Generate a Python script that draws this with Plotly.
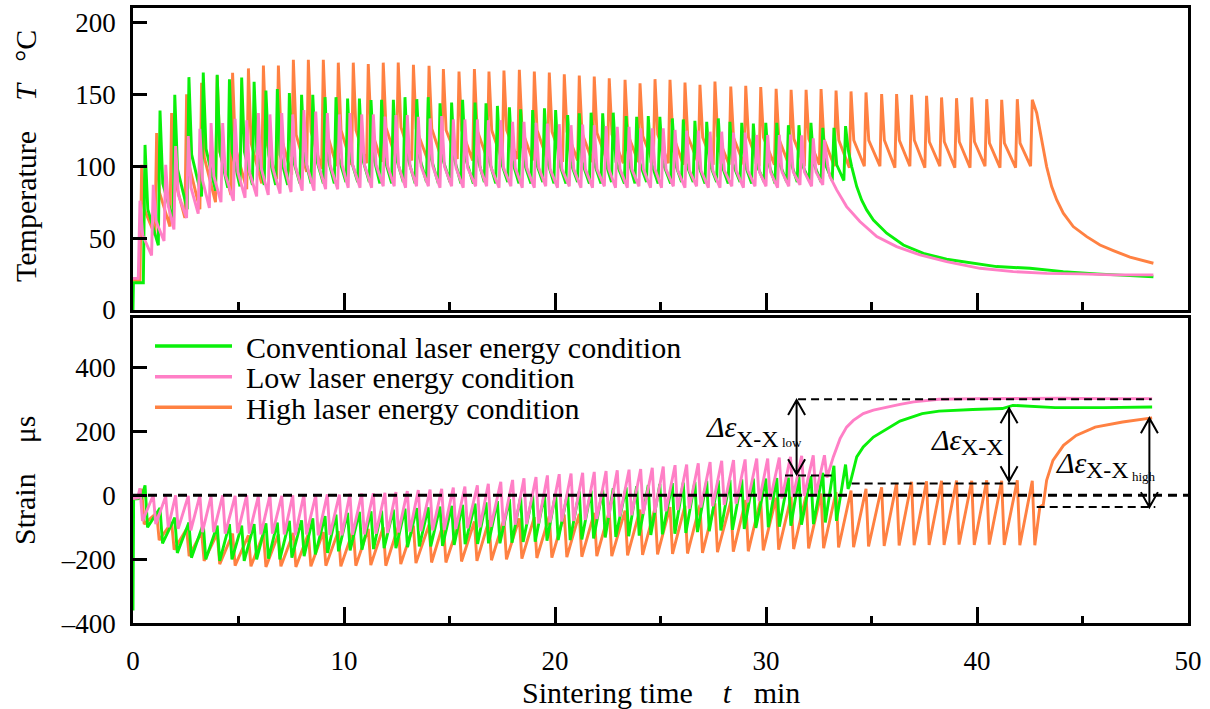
import plotly.graph_objects as go

W, H = 1210, 709

# ---------------- DATA ----------------
# Peak times of each laser layer (min)
GREEN_TIME = [0.57, 1.28, 1.98, 2.65, 3.33, 3.99, 4.57, 5.15, 5.74, 6.30,
              6.84, 7.41, 7.99, 8.52, 9.10, 9.62, 10.17, 10.73, 11.28, 11.78,
              12.34, 12.89, 13.45, 13.99, 14.55, 15.10, 15.62, 16.21, 16.73, 17.27,
              17.84, 18.37, 18.94, 19.50, 20.03, 20.60, 21.15, 21.71, 22.26, 22.76,
              23.37, 23.87, 24.42, 24.97, 25.56, 26.08, 26.63, 27.19, 27.74, 28.29,
              28.85, 29.40, 29.99, 30.51, 31.06, 31.56, 32.13, 32.69, 33.22, 33.77]
PINK_TIME = [0.33, 0.96, 1.55, 2.02, 2.62, 3.17, 3.70, 4.25, 4.84, 5.39,
             5.94, 6.49, 7.05, 7.57, 8.10, 8.66, 9.21, 9.78, 10.28, 10.84,
             11.39, 11.94, 12.46, 13.00, 13.52, 14.08, 14.63, 15.18, 15.73, 16.32,
             16.84, 17.43, 17.99, 18.53, 19.10, 19.64, 20.20, 20.76, 21.31, 21.86,
             22.42, 22.95, 23.51, 24.06, 24.61, 25.13, 25.69, 26.24, 26.79, 27.35,
             27.90, 28.46, 29.01, 29.56, 30.08, 30.63, 31.16, 31.69, 32.24, 32.77]
ORANGE_TIME = [0.41, 1.12, 1.83, 2.54, 3.25, 3.99, 4.72, 5.47, 6.18, 6.89,
               7.60, 8.31, 9.02, 9.73, 10.44, 11.15, 11.86, 12.57, 13.29, 14.03,
               14.71, 15.45, 16.18, 16.87, 17.58, 18.31, 19.02, 19.73, 20.44, 21.15,
               21.86, 22.57, 23.32, 24.03, 24.74, 25.45, 26.16, 26.87, 27.58, 28.33,
               29.04, 29.75, 30.48, 31.19, 31.90, 32.61, 33.32, 34.03, 34.74, 35.48,
               36.19, 36.90, 37.61, 38.32, 39.03, 39.75, 40.46, 41.17, 41.91, 42.62]

# Temperature: peak of each layer, the trough just before it, and the
# "knee" level reached shortly after the peak (deg C)
GREEN_T_PEAK = [114.8, 138.7, 149.6, 161.9, 165.2, 163.5, 160.5, 161.7, 158.7, 152.6,
                153.6, 150.8, 149.6, 149.6, 148.0, 148.0, 147.0, 147.0, 146.0, 146.1,
                146.1, 148.0, 146.6, 148.0, 143.8, 144.2, 146.1, 144.2, 143.8, 141.9,
                141.0, 139.6, 139.1, 140.3, 139.1, 135.6, 136.8, 137.2, 136.8, 137.2,
                134.9, 134.4, 134.9, 134.4, 133.2, 132.5, 131.6, 130.9, 133.2, 130.9,
                130.2, 129.7, 130.2, 130.2, 128.5, 128.5, 130.2, 126.7, 126.7, 127.9]
GREEN_T_TROUGH = [19, 45, 62, 70, 79, 83, 85, 86, 87, 87,
                  87, 87, 88, 88, 88, 88, 89, 89, 89, 88,
                  88, 89, 88, 89, 88, 89, 88, 88, 89, 88,
                  89, 88, 88, 89, 88, 88, 89, 88, 88, 89,
                  88, 88, 89, 88, 88, 89, 89, 88, 89, 88,
                  89, 88, 89, 88, 89, 89, 90, 89, 90, 90]
GREEN_T_KNEE = [70, 88, 98, 108, 112, 110, 110, 110, 110, 108,
                108, 107, 107, 107, 106, 106, 106, 106, 106, 106,
                106, 106, 106, 106, 105, 105, 106, 105, 105, 105,
                104, 104, 104, 104, 104, 103, 103, 103, 103, 103,
                103, 103, 103, 103, 102, 102, 102, 102, 102, 102,
                102, 102, 102, 102, 102, 102, 102, 101, 101]
PINK_T_PEAK = [76, 87, 101, 114, 121, 126, 130, 130, 133, 132,
               137, 136, 137, 136, 139, 138, 137, 136, 137, 136,
               136, 134.5, 135.6, 135.6, 134.4, 133.2, 134.9, 132.5, 132.5, 132.5,
               132.0, 132.0, 130.9, 130.9, 130.2, 129.7, 129.2, 128.5, 129.0, 128.5,
               127.9, 127.4, 127.4, 126.3, 126.3, 126.3, 125.2, 124.7, 124.7, 124.0,
               124.0, 123.4, 123.4, 121.7, 121.7, 121.7, 122.0, 121.5, 119.4, 118.3]
PINK_T_TROUGH = [22, 38, 48, 56, 64, 67, 71, 75, 76, 78,
                 79, 80, 81, 82, 83, 83, 84, 84, 85, 85,
                 85, 86, 86, 85, 86, 86, 85, 86, 85, 86,
                 86, 85, 86, 85, 85, 86, 85, 86, 85, 85,
                 86, 85, 85, 86, 85, 85, 86, 85, 86, 85,
                 85, 86, 85, 86, 86, 85, 86, 87, 86, 87]
PINK_T_KNEE = [52, 62, 72, 80, 85, 90, 93, 94, 96, 96,
               99, 99, 100, 100, 101, 101, 101, 101, 101, 101,
               101, 100, 100, 100, 100, 100, 100, 99, 99, 99,
               99, 99, 99, 99, 99, 98, 98, 98, 98, 98,
               98, 98, 98, 98, 98, 98, 97, 97, 97, 97,
               97, 97, 97, 96, 96, 96, 96, 96, 96]
ORANGE_T_PEAK = [101, 123, 137, 150, 158, 163, 165, 168, 170, 170,
                 174, 174, 174, 172, 172, 171, 172, 172, 170.5, 169.8,
                 167.5, 165.8, 167.5, 165.8, 166.5, 167.0, 165.8, 165.1, 163.9, 163.0,
                 162.3, 161.1, 160.0, 157.7, 160.5, 160.0, 158.2, 156.6, 158.9, 155.4,
                 155.9, 155.0, 153.8, 153.1, 153.1, 153.6, 152.6, 152.0, 151.3, 150.1,
                 150.1, 149.6, 148.9, 147.8, 147.3, 147.8, 146.6, 146.2, 146.6, 146.2]
ORANGE_T_TROUGH = [20, 52, 58, 64, 70, 75, 80, 84, 88, 91,
                   94, 96, 98, 100, 101, 102, 103, 104, 104, 105,
                   105, 105, 104, 105, 104, 105, 104, 104, 103, 104,
                   103, 103, 102, 103, 102, 102, 101, 102, 101, 101,
                   101, 100, 101, 100, 100, 101, 100, 99, 100, 100,
                   99, 100, 99, 100, 99, 99, 100, 99, 99, 100]
ORANGE_T_KNEE = [70, 82, 92, 100, 106, 110, 113, 116, 118, 120,
                 122, 124, 125, 125, 125, 126, 127, 127, 126, 126,
                 125, 125, 125, 125, 125, 125, 125, 124, 124, 123,
                 123, 122, 122, 121, 122, 122, 121, 120, 121, 120,
                 120, 120, 119, 119, 119, 119, 118, 118, 118, 118,
                 118, 118, 117, 117, 117, 117, 116, 116, 116]

# Temperature before the first layer and cooling after the last one
GREEN_T_START_TIME, GREEN_T_START = [0.0, 0.02], [0, 19]
PINK_T_START_TIME, PINK_T_START = [0.0], [22]
ORANGE_T_START_TIME, ORANGE_T_START = [0.0], [21]
GREEN_T_TAIL_TIME = [33.90, 34.06, 34.30, 34.53, 34.77, 35.09, 35.72, 36.51, 37.46,
                     38.56, 39.82, 40.93, 42.51, 44.09, 45.67, 47.25, 48.36]
GREEN_T_TAIL = [111, 99.7, 85.8, 76.5, 69.6, 62.6, 53.4, 45.2, 39.4,
                35.3, 32.5, 30.2, 29.0, 26.7, 25.1, 23.7, 23.0]
PINK_T_TAIL_TIME = [32.93, 33.03, 33.35, 33.82, 34.45, 35.25, 36.19, 37.30,
                    38.56, 40.14, 41.72, 43.30, 44.88, 46.46, 48.36]
PINK_T_TAIL = [100, 92.8, 83.5, 71.9, 61.5, 51.0, 44.1, 38.3,
               33.6, 29.0, 26.7, 25.5, 25.1, 24.4, 24.4]
ORANGE_T_TAIL_TIME = [42.83, 43.07, 43.30, 43.54, 43.78, 44.09, 44.56, 45.20,
                      45.83, 46.46, 47.25, 48.36]
ORANGE_T_TAIL = [137, 118, 99.7, 85.8, 76.5, 67.3, 58.0, 51.0, 45.2, 41.3, 36.7, 32.5]

# Strain: peak of each layer and the dip right after it (micro-strain)
GREEN_S_PEAK = [31, -40, -70, -85, -90, -95, -90, -95, -90, -88,
                -85, -80, -78, -72, -65, -60, -55, -52, -50, -48,
                -45, -42, -40, -38, -35, -33, -30, -26, -22, -18,
                -12, -6, 0, 3, 6, 8, 12, 15, 18, 22,
                25, 28, 32, 35, 38, 40, 42, 45, 47, 48,
                50, 52, 52, 54, 55, 57, 60, 70, 92, 96]
GREEN_S_TROUGH = [-100, -150, -180, -195, -200, -205, -200, -205, -200, -198,
                  -200, -195, -190, -185, -180, -175, -172, -170, -168, -165,
                  -165, -162, -160, -160, -158, -155, -153, -152, -150, -150,
                  -148, -146, -145, -142, -140, -140, -138, -135, -132, -130,
                  -128, -126, -124, -122, -120, -118, -115, -112, -110, -108,
                  -105, -102, -100, -98, -95, -92, -90, -85, -80, 20]
PINK_S_PEAK = [22, 0, -3, 0, -2, 0, -3, 0, -2, 0,
               -3, 0, -2, 0, 2, 0, 3, 2, 5, 5,
               6, 8, 10, 13, 16, 18, 20, 24, 27, 31,
               36, 42, 48, 53, 57, 62, 66, 68, 70, 73,
               76, 78, 80, 82, 86, 90, 94, 96, 100, 104,
               108, 110, 112, 115, 115, 118, 120, 123, 125, 125]
PINK_S_TROUGH = [-80, -90, -100, -105, -110, -115, -115, -120, -118, -120,
                 -122, -120, -122, -125, -122, -125, -124, -125, -123, -122,
                 -120, -118, -116, -114, -112, -110, -108, -105, -103, -100,
                 -98, -95, -92, -90, -88, -85, -82, -80, -77, -74,
                 -70, -66, -62, -58, -54, -50, -46, -42, -38, -34,
                 -30, -26, -22, -18, -14, -10, -6, -2, 2, 55]
ORANGE_S_PEAK = [20, -55, -85, -105, -115, -120, -120, -125, -120, -122,
                 -118, -120, -115, -112, -108, -105, -100, -98, -95, -92,
                 -88, -85, -82, -78, -75, -72, -68, -65, -60, -58,
                 -55, -50, -48, -45, -40, -37, -33, -30, -25, -20,
                 -15, -12, -8, -5, 0, 5, 10, 15, 20, 25,
                 38, 42, 44, 45, 46, 45, 47, 45, 47, 45]
ORANGE_S_TROUGH = [-90, -140, -170, -190, -205, -215, -220, -222, -224, -222,
                   -224, -222, -220, -222, -220, -218, -220, -215, -212, -210,
                   -210, -207, -205, -203, -200, -198, -196, -195, -193, -192,
                   -190, -190, -188, -186, -185, -183, -182, -180, -178, -176,
                   -175, -172, -170, -168, -166, -165, -163, -162, -160, -158,
                   -157, -156, -155, -155, -154, -155, -154, -155, -156, -156]

GREEN_S_START_TIME, GREEN_S_START = [0.0, 0.03, 0.40], [-360, -12, -10]
PINK_S_START_TIME, PINK_S_START = [0.0, 0.22], [-10, -8]
ORANGE_S_START_TIME, ORANGE_S_START = [0.0, 0.30], [-8, -8]
GREEN_S_TAIL_TIME = [33.98, 34.30, 34.61, 35.09, 35.72, 36.35, 37.40, 38.20, 39.80,
                     41.20, 41.70, 42.50, 43.70, 46.00, 48.30]
GREEN_S_TAIL = [36, 120, 151, 182, 208, 232, 255, 263, 268, 271, 281, 278, 274, 274, 276]
PINK_S_TAIL_TIME = [32.95, 33.19, 33.51, 33.82, 34.14, 34.61, 35.09, 35.72, 36.35,
                    37.00, 38.20, 40.00, 42.00, 44.00, 46.00, 48.30]
PINK_S_TAIL = [68, 120, 177, 213, 234, 255, 266, 276, 284, 292, 300, 302, 303, 303, 302, 302]
ORANGE_S_TAIL_TIME = [42.98, 43.14, 43.30, 43.60, 44.10, 44.70, 45.60, 46.90, 48.30]
ORANGE_S_TAIL = [-36, -30, 47, 109, 156, 187, 213, 229, 242]

# Annotated strain differences: (time of arrow, upper level, lower level)
DELTA_LOW = (31.45, 298, 66)
DELTA_CONV = (41.52, 272, 44)
DELTA_HIGH = (48.17, 241, -37)
# Dashed reference levels: (t start, t end, level)
REF_LEVELS = [(31.52, 48.28, 300), (30.90, 33.11, 62), (34.06, 41.86, 37), (42.83, 48.45, -37)]

X_TICKS = [0, 10, 20, 30, 40, 50]
T_TICKS = [0, 50, 100, 150, 200]
S_TICKS = [-400, -200, 0, 200, 400]
S_TICKTEXT = ["\u2013400", "\u2013200", "0", "200", "400"]

NAMES = ["Conventional laser energy condition", "Low laser energy condition",
         "High laser energy condition"]
COLORS = {"green": "#0af00a", "pink": "#ff7fc6", "orange": "#ff8142"}

RISE = 0.08          # heating flank duration (min)
KNEE_DT = 0.13       # time after the peak at which the knee level is read (min)
DIP = 0.12           # strain dip delay after peak (min)

for a, b in [(GREEN_TIME, GREEN_T_PEAK), (GREEN_TIME, GREEN_T_TROUGH), (GREEN_TIME, GREEN_S_PEAK),
             (GREEN_TIME, GREEN_S_TROUGH), (PINK_TIME, PINK_T_PEAK), (PINK_TIME, PINK_T_TROUGH),
             (PINK_TIME, PINK_S_PEAK), (PINK_TIME, PINK_S_TROUGH), (ORANGE_TIME, ORANGE_T_PEAK),
             (ORANGE_TIME, ORANGE_T_TROUGH), (ORANGE_TIME, ORANGE_S_PEAK), (ORANGE_TIME, ORANGE_S_TROUGH)]:
    assert len(a) == len(b), (len(a), len(b))
for a, k in [(GREEN_TIME, GREEN_T_KNEE), (PINK_TIME, PINK_T_KNEE), (ORANGE_TIME, ORANGE_T_KNEE)]:
    assert len(k) == len(a) - 1, (len(a), len(k))


def temp_series(st, sv, times, peaks, troughs, knees, tt, tv):
    xs, ys = list(st), list(sv)
    for i, (t, p, tr) in enumerate(zip(times, peaks, troughs)):
        xs += [t - RISE, t]
        ys += [tr, p]
        if i < len(knees):
            xs.append(t + KNEE_DT)
            ys.append(knees[i])
    return xs + list(tt), ys + list(tv)


def strain_series(st, sv, times, peaks, troughs, tt, tv):
    xs, ys = list(st), list(sv)
    for t, p, tr in zip(times, peaks, troughs):
        xs += [t, t + DIP]
        ys += [p, tr]
    return xs + list(tt), ys + list(tv)


def px(x):
    return x / W


def py(y):
    return 1 - y / H


fig = go.Figure()
LW = 2.9
order = [
    ("orange", ORANGE_T_START_TIME, ORANGE_T_START, ORANGE_TIME, ORANGE_T_PEAK, ORANGE_T_TROUGH,
     ORANGE_T_KNEE, ORANGE_T_TAIL_TIME, ORANGE_T_TAIL, ORANGE_S_START_TIME, ORANGE_S_START,
     ORANGE_S_PEAK, ORANGE_S_TROUGH, ORANGE_S_TAIL_TIME, ORANGE_S_TAIL, NAMES[2]),
    ("green", GREEN_T_START_TIME, GREEN_T_START, GREEN_TIME, GREEN_T_PEAK, GREEN_T_TROUGH,
     GREEN_T_KNEE, GREEN_T_TAIL_TIME, GREEN_T_TAIL, GREEN_S_START_TIME, GREEN_S_START,
     GREEN_S_PEAK, GREEN_S_TROUGH, GREEN_S_TAIL_TIME, GREEN_S_TAIL, NAMES[0]),
    ("pink", PINK_T_START_TIME, PINK_T_START, PINK_TIME, PINK_T_PEAK, PINK_T_TROUGH,
     PINK_T_KNEE, PINK_T_TAIL_TIME, PINK_T_TAIL, PINK_S_START_TIME, PINK_S_START,
     PINK_S_PEAK, PINK_S_TROUGH, PINK_S_TAIL_TIME, PINK_S_TAIL, NAMES[1]),
]
for (c, tst, tsv, times, tp, ttr, tk, ttt, ttv, sst, ssv, sp, strr, stt, stv, name) in order:
    x, y = temp_series(tst, tsv, times, tp, ttr, tk, ttt, ttv)
    fig.add_trace(go.Scatter(x=x, y=y, mode="lines", line=dict(color=COLORS[c], width=LW),
                             name=name, showlegend=False, xaxis="x", yaxis="y"))
    x, y = strain_series(sst, ssv, times, sp, strr, stt, stv)
    fig.add_trace(go.Scatter(x=x, y=y, mode="lines", line=dict(color=COLORS[c], width=LW),
                             name=name, showlegend=False, xaxis="x2", yaxis="y2"))

FONT = "'Liberation Serif', 'Times New Roman', serif"
XDOM = [px(133), px(1188)]
axis_common = dict(showline=True, linecolor="black", linewidth=2.5, mirror=True,
                   showgrid=False, zeroline=False, ticks="inside", tickcolor="black",
                   tickwidth=2.5, automargin=False,
                   tickfont=dict(family=FONT, size=27, color="black"))
xcommon = dict(axis_common, range=[0, 50], tickvals=X_TICKS, ticklen=17,
               minor=dict(ticks="inside", dtick=5, ticklen=8, tickwidth=2.5, tickcolor="black"))

fig.update_layout(
    width=W, height=H, autosize=False,
    margin=dict(l=0, r=0, t=0, b=0, pad=0),
    paper_bgcolor="white", plot_bgcolor="white",
    showlegend=False,
    xaxis=dict(xcommon, domain=XDOM, anchor="y", showticklabels=False),
    yaxis=dict(axis_common, domain=[py(310), py(8)], range=[0, 210], tickvals=T_TICKS,
               ticklen=14, anchor="x", ticklabelstandoff=9),
    xaxis2=dict(xcommon, domain=XDOM, anchor="y2", ticklabelstandoff=12),
    yaxis2=dict(axis_common, domain=[py(623.3), py(318.3)], range=[-400, 553],
                tickvals=S_TICKS, ticktext=S_TICKTEXT, ticklen=14, anchor="x2",
                ticklabelstandoff=9),
)

shapes = []
# zero reference line
shapes.append(dict(type="line", xref="x2", yref="y2", x0=0, x1=50, y0=0, y1=0,
                   line=dict(color="black", width=3, dash="9px,6px")))
for t0, t1, lv in REF_LEVELS:
    shapes.append(dict(type="line", xref="x2", yref="y2", x0=t0, x1=t1, y0=lv, y1=lv,
                       line=dict(color="black", width=2, dash="8px,5px")))
HW = 8.5 / 21.1   # arrowhead half width in minutes
HH = 15 / 0.32    # arrowhead height in micro-strain
for t, top, bot in [DELTA_LOW, DELTA_CONV, DELTA_HIGH]:
    path = (f"M {t},{top} L {t},{bot} "
            f"M {t - HW},{top - HH} L {t},{top} L {t + HW},{top - HH} "
            f"M {t - HW},{bot + HH} L {t},{bot} L {t + HW},{bot + HH}")
    shapes.append(dict(type="path", xref="x2", yref="y2", path=path,
                       line=dict(color="black", width=2)))

# manual legend lines
LEG_Y = [346, 376.7, 407.3]
LEG_C = ["green", "pink", "orange"]
for yy, c in zip(LEG_Y, LEG_C):
    shapes.append(dict(type="line", xref="paper", yref="paper", x0=px(155), x1=px(232),
                       y0=py(yy), y1=py(yy), line=dict(color=COLORS[c], width=3.5)))
fig.update_layout(shapes=shapes)

ann = []
for yy, name in zip(LEG_Y, NAMES):
    ann.append(dict(x=px(244), y=py(yy + 1), xref="paper", yref="paper", text=name,
                    showarrow=False, xanchor="left", yanchor="middle",
                    font=dict(family=FONT, size=30, color="black")))

NB = "\u00a0"
ann.append(dict(x=px(25), y=py(156), xref="paper", yref="paper", textangle=-90,
                text="Temperature" + NB * 4 + "<i>T</i>" + NB * 3 + "\u00b0C",
                showarrow=False, xanchor="center", yanchor="middle",
                font=dict(family=FONT, size=30, color="black")))
ann.append(dict(x=px(25), y=py(481), xref="paper", yref="paper", textangle=-90,
                text="Strain" + NB * 4 + "\u03bcs",
                showarrow=False, xanchor="center", yanchor="middle",
                font=dict(family=FONT, size=30, color="black")))
ann.append(dict(x=px(661), y=py(692), xref="paper", yref="paper",
                text="Sintering time" + NB * 4 + "<i>t</i>" + NB * 3 + "min",
                showarrow=False, xanchor="center", yanchor="middle",
                font=dict(family=FONT, size=30, color="black")))


def label(xl, base_main, base_sub, sub2, base_sub2=None):
    parts = [(xl, base_main, "<i>\u0394\u03b5</i>", 30),
             (xl + 30, base_sub, "X-X", 24)]
    if sub2:
        parts.append((xl + 76, base_sub2 or base_sub, sub2, 13))
    res = []
    for x0, base, txt, size in parts:
        res.append(dict(x=px(x0), y=py(base - 0.335 * size), xref="paper", yref="paper",
                        text=txt, showarrow=False, xanchor="left", yanchor="middle",
                        font=dict(family=FONT, size=size, color="black")))
    return res


ann += label(704, 437, 447, "low")
ann += label(929, 450, 455, None)
ann += label(1054, 473, 478, "high", 481)
fig.update_layout(annotations=ann)

fig.write_html("out.html", config={"displayModeBar": False},
               post_script="document.body.style.margin='0px';"
                           "document.body.style.overflow='hidden';")
